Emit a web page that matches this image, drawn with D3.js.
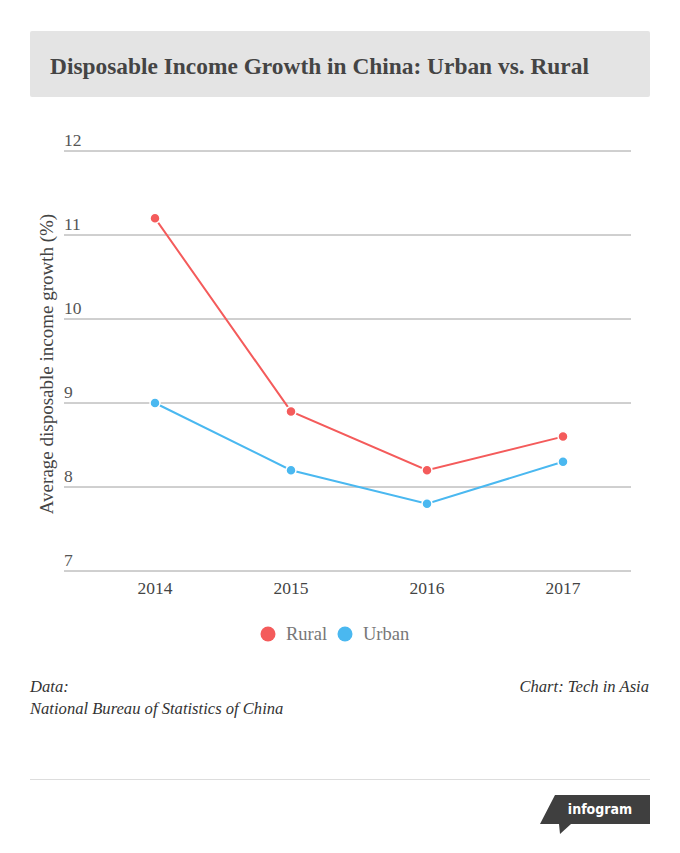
<!DOCTYPE html>
<html>
<head>
<meta charset="utf-8">
<script src="https://cdnjs.cloudflare.com/ajax/libs/d3/7.8.5/d3.min.js"></script>
<style>
  body { margin: 0; background: #fff; }
  svg { display: block; }
</style>
</head>
<body>
<div id="chart"></div>
<script>
// chart values
const years = ["2014", "2015", "2016", "2017"];
const rural = [11.2, 8.9, 8.2, 8.6];
const urban = [9.0, 8.2, 7.8, 8.3];
const yTicks = [7, 8, 9, 10, 11, 12];
const seriesNames = ["Rural", "Urban"];
const seriesColors = ["#f45b5b", "#4ab8f0"];

const serif = "'Liberation Serif', 'DejaVu Serif', serif";
const W = 680, H = 853;

const svg = d3.select("#chart")
  .append("svg")
  .attr("width", W)
  .attr("height", H);

// title box
svg.append("rect")
  .attr("x", 30).attr("y", 31)
  .attr("width", 620).attr("height", 66)
  .attr("rx", 2)
  .attr("fill", "#e4e4e4");

svg.append("text")
  .attr("x", 50).attr("y", 74)
  .attr("font-family", serif)
  .attr("font-weight", "bold")
  .attr("font-size", "23.4px")
  .attr("fill", "#444")
  .text("Disposable Income Growth in China: Urban vs. Rural");

// scales
const x = d3.scalePoint()
  .domain(years)
  .range([87, 631])
  .padding(0.5);

const y = d3.scaleLinear()
  .domain([7, 12])
  .range([571, 151]);

const gridLeft = 64, gridRight = 631;

// gridlines + y labels
const yAxis = svg.append("g").attr("class", "y-axis");
yAxis.selectAll("line")
  .data(yTicks)
  .join("line")
  .attr("x1", gridLeft).attr("x2", gridRight)
  .attr("y1", d => y(d)).attr("y2", d => y(d))
  .attr("stroke", "#a0a0a0")
  .attr("stroke-width", 1);

yAxis.selectAll("text")
  .data(yTicks)
  .join("text")
  .attr("x", gridLeft)
  .attr("y", d => y(d) - 5)
  .attr("font-family", serif)
  .attr("font-size", "17.5px")
  .attr("fill", "#555")
  .text(d => d);

// x labels
svg.append("g")
  .selectAll("text")
  .data(years)
  .join("text")
  .attr("x", d => x(d))
  .attr("y", 594)
  .attr("text-anchor", "middle")
  .attr("font-family", serif)
  .attr("font-size", "17.5px")
  .attr("fill", "#444")
  .text(d => d);

// y axis title
svg.append("text")
  .attr("transform", "translate(53, 364) rotate(-90)")
  .attr("text-anchor", "middle")
  .attr("font-family", serif)
  .attr("font-size", "19px")
  .attr("fill", "#444")
  .text("Average disposable income growth (%)");

// lines
const line = d3.line()
  .x((d, i) => x(years[i]))
  .y(d => y(d));

[rural, urban].forEach((vals, si) => {
  const g = svg.append("g").attr("class", "series-" + seriesNames[si].toLowerCase());
  g.append("path")
    .datum(vals)
    .attr("d", line)
    .attr("fill", "none")
    .attr("stroke", seriesColors[si])
    .attr("stroke-width", 2);
  g.selectAll("circle")
    .data(vals)
    .join("circle")
    .attr("cx", (d, i) => x(years[i]))
    .attr("cy", d => y(d))
    .attr("r", 5)
    .attr("fill", seriesColors[si])
    .attr("stroke", "#fff")
    .attr("stroke-width", 1.5);
});

// legend
const legend = svg.append("g").attr("class", "legend");
const legendX = [268, 345];
seriesNames.forEach((name, i) => {
  legend.append("circle")
    .attr("cx", legendX[i]).attr("cy", 634)
    .attr("r", 7.5)
    .attr("fill", seriesColors[i]);
  legend.append("text")
    .attr("x", legendX[i] + 18).attr("y", 640)
    .attr("font-family", serif)
    .attr("font-size", "18.5px")
    .attr("fill", "#777")
    .text(name);
});

// footer notes
const note = { "font-family": serif, "font-size": "16.6px", "font-style": "italic", "fill": "#333" };
function noteText(tx, ty, str, anchor) {
  const t = svg.append("text").attr("x", tx).attr("y", ty).attr("text-anchor", anchor || "start").text(str);
  Object.entries(note).forEach(([k, v]) => t.attr(k, v));
}
noteText(30, 692, "Data:");
noteText(30, 714, "National Bureau of Statistics of China");
noteText(649, 692, "Chart: Tech in Asia", "end");

svg.append("line")
  .attr("x1", 30).attr("x2", 650)
  .attr("y1", 779.5).attr("y2", 779.5)
  .attr("stroke", "#ddd");

// infogram badge
svg.append("path")
  .attr("d", "M555,795 L650,795 L650,824 L571,824 L560,834 L559,824 L540,824 Z")
  .attr("fill", "#3f3f3f");
svg.append("text")
  .attr("x", 600).attr("y", 814)
  .attr("text-anchor", "middle")
  .attr("font-family", "'DejaVu Sans Condensed', 'DejaVu Sans', sans-serif")
  .attr("font-weight", "bold")
  .attr("font-size", "14px")
  .attr("fill", "#fff")
  .text("infogram");
</script>
</body>
</html>
